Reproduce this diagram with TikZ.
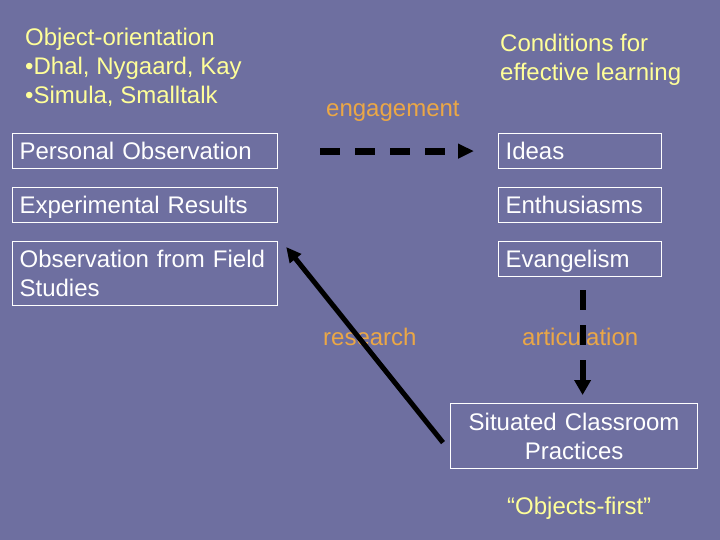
\documentclass[tikz,border=0pt]{standalone}
\usepackage{fontspec}
\setmainfont{Liberation Sans}
\usetikzlibrary{arrows.meta,calc}
\definecolor{bg}{HTML}{6E6FA0}
\definecolor{ylw}{HTML}{FFFF99}
\definecolor{org}{HTML}{EBA746}
\begin{document}
\begin{tikzpicture}[x=1pt,y=-1pt,
  box/.style={draw=white,line width=1.2pt,text=white,font=\fontsize{24}{29}\selectfont,
    inner xsep=7pt,inner ysep=0pt,anchor=north west,align=left},
  onebox/.style={box,text height=17pt,text depth=0pt,minimum height=35pt},
  lbl/.style={font=\fontsize{24}{29}\selectfont,inner sep=0pt,anchor=base west,align=left},
  blk/.style={line width=#1,draw=black},
]
\fill[bg] (0,0) rectangle (720,540);
\useasboundingbox (0,0) rectangle (720,540);

\node[onebox,text width=251pt] (po) at (12,133) {Personal Observation};
\node[onebox,text width=251pt] (er) at (12,187) {Experimental Results};
\node[box,text width=251pt,minimum height=64pt] (ofs) at (12,241) {Observation from Field\\Studies};
\node[onebox,text width=149pt] (ideas) at (498,133) {Ideas};
\node[onebox,text width=149pt] (enth) at (498,187) {Enthusiasms};
\node[onebox,text width=149pt] (evang) at (498,241) {Evangelism};
\node[box,text width=233pt,minimum height=65pt,align=center] (sit) at (450,403) {Situated Classroom\\Practices};

\node[lbl,text=ylw] (oo) at (25,104) {Object-orientation\\•Dhal, Nygaard, Kay\\•Simula, Smalltalk};
\node[lbl,text=ylw] (cond) at (500,81) {Conditions for\\effective learning};
\node[lbl,text=org] (eng) at (326,117) {engagement};
\node[lbl,text=org] (res) at (323,345) {research};
\node[lbl,text=org] (art) at (522,345) {articulation};
\node[lbl,text=ylw] (of) at (507,514) {“Objects-first”};

\draw[blk=7pt,dash pattern=on 20pt off 15pt,-{Triangle[length=16pt,width=14pt]}]
  ([xshift=42pt]po.east) -- ([xshift=-24pt]ideas.west);
\draw[blk=5pt,-{Triangle[length=15pt,width=14pt]}]
  ([xshift=-7pt,yshift=-6.5pt]sit.west) -- ([xshift=8pt,yshift=-6pt]ofs.north east);
\draw[blk=6pt,dash pattern=on 20pt off 15pt,-{Triangle[length=15pt,width=16pt]}]
  ([xshift=2.5pt,yshift=-13pt]evang.south) -- ($(evang.south |- sit.north)+(2.5pt,8pt)$);
\end{tikzpicture}
\end{document}
